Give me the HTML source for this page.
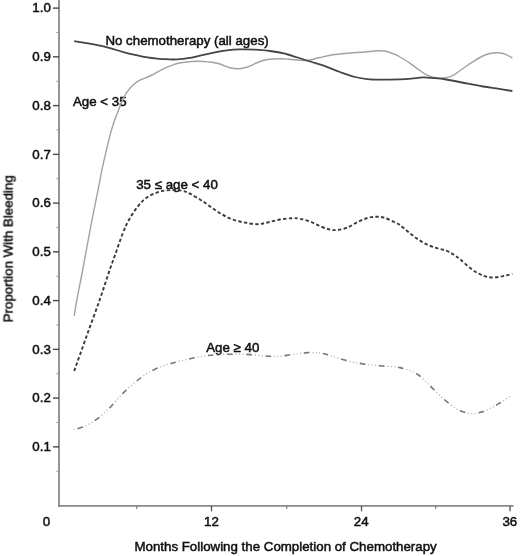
<!DOCTYPE html>
<html><head><meta charset="utf-8"><title>Chart</title>
<style>
html,body{margin:0;padding:0;background:#fff;}
svg{display:block}
.t{font-family:"Liberation Sans",sans-serif;font-size:13.3px;fill:#111;stroke:#111;stroke-width:0.5px;}
</style></head><body>
<svg width="520" height="556" viewBox="0 0 520 556">
<defs><filter id="soft" x="-10" y="-10" width="540" height="576" filterUnits="userSpaceOnUse"><feGaussianBlur stdDeviation="0.45"/></filter></defs>
<rect width="520" height="556" fill="#fff"/>
<g filter="url(#soft)">
<line x1="59.0" y1="-6" x2="59.0" y2="506.9" stroke="#8a8a8a" stroke-width="1.8"/>
<line x1="58.0" y1="505.9" x2="513.6" y2="505.9" stroke="#8a8a8a" stroke-width="1.8"/>
<line x1="53" y1="8.10" x2="59.0" y2="8.10" stroke="#4a4a4a" stroke-width="1.4"/>
<text x="50.8" y="12.30" text-anchor="end" class="t">1.0</text>
<line x1="56.3" y1="32.48" x2="59.0" y2="32.48" stroke="#999" stroke-width="1"/>
<line x1="53" y1="56.85" x2="59.0" y2="56.85" stroke="#4a4a4a" stroke-width="1.4"/>
<text x="50.8" y="61.05" text-anchor="end" class="t">0.9</text>
<line x1="56.3" y1="81.22" x2="59.0" y2="81.22" stroke="#999" stroke-width="1"/>
<line x1="53" y1="105.60" x2="59.0" y2="105.60" stroke="#4a4a4a" stroke-width="1.4"/>
<text x="50.8" y="109.80" text-anchor="end" class="t">0.8</text>
<line x1="56.3" y1="129.97" x2="59.0" y2="129.97" stroke="#999" stroke-width="1"/>
<line x1="53" y1="154.35" x2="59.0" y2="154.35" stroke="#4a4a4a" stroke-width="1.4"/>
<text x="50.8" y="158.55" text-anchor="end" class="t">0.7</text>
<line x1="56.3" y1="178.72" x2="59.0" y2="178.72" stroke="#999" stroke-width="1"/>
<line x1="53" y1="203.10" x2="59.0" y2="203.10" stroke="#4a4a4a" stroke-width="1.4"/>
<text x="50.8" y="207.30" text-anchor="end" class="t">0.6</text>
<line x1="56.3" y1="227.47" x2="59.0" y2="227.47" stroke="#999" stroke-width="1"/>
<line x1="53" y1="251.85" x2="59.0" y2="251.85" stroke="#4a4a4a" stroke-width="1.4"/>
<text x="50.8" y="256.05" text-anchor="end" class="t">0.5</text>
<line x1="56.3" y1="276.23" x2="59.0" y2="276.23" stroke="#999" stroke-width="1"/>
<line x1="53" y1="300.60" x2="59.0" y2="300.60" stroke="#4a4a4a" stroke-width="1.4"/>
<text x="50.8" y="304.80" text-anchor="end" class="t">0.4</text>
<line x1="56.3" y1="324.98" x2="59.0" y2="324.98" stroke="#999" stroke-width="1"/>
<line x1="53" y1="349.35" x2="59.0" y2="349.35" stroke="#4a4a4a" stroke-width="1.4"/>
<text x="50.8" y="353.55" text-anchor="end" class="t">0.3</text>
<line x1="56.3" y1="373.73" x2="59.0" y2="373.73" stroke="#999" stroke-width="1"/>
<line x1="53" y1="398.10" x2="59.0" y2="398.10" stroke="#4a4a4a" stroke-width="1.4"/>
<text x="50.8" y="402.30" text-anchor="end" class="t">0.2</text>
<line x1="56.3" y1="422.48" x2="59.0" y2="422.48" stroke="#999" stroke-width="1"/>
<line x1="53" y1="446.85" x2="59.0" y2="446.85" stroke="#4a4a4a" stroke-width="1.4"/>
<text x="50.8" y="451.05" text-anchor="end" class="t">0.1</text>
<line x1="56.3" y1="471.23" x2="59.0" y2="471.23" stroke="#999" stroke-width="1"/>
<line x1="211.5" y1="505.9" x2="211.5" y2="511.29999999999995" stroke="#555" stroke-width="1.3"/>
<line x1="361.5" y1="505.9" x2="361.5" y2="511.29999999999995" stroke="#555" stroke-width="1.3"/>
<line x1="510" y1="505.9" x2="510" y2="511.29999999999995" stroke="#555" stroke-width="1.3"/>
<line x1="136.8" y1="505.9" x2="136.8" y2="508.9" stroke="#777" stroke-width="1.1"/>
<line x1="286.8" y1="505.9" x2="286.8" y2="508.9" stroke="#777" stroke-width="1.1"/>
<line x1="435.7" y1="505.9" x2="435.7" y2="508.9" stroke="#777" stroke-width="1.1"/>
<text x="46.5" y="526.2" text-anchor="middle" class="t">0</text>
<text x="211.5" y="526.2" text-anchor="middle" class="t">12</text>
<text x="361.2" y="526.2" text-anchor="middle" class="t">24</text>
<text x="509.8" y="526.2" text-anchor="middle" class="t">36</text>
<text x="285.6" y="550.6" text-anchor="middle" class="t">Months Following the Completion of Chemotherapy</text>
<text transform="translate(12.6,248.8) rotate(-90)" text-anchor="middle" class="t">Proportion With Bleeding</text>
<text x="105.4" y="44.7" class="t">No chemotherapy (all ages)</text>
<text x="73" y="105.8" class="t">Age &lt; 35</text>
<text x="136.2" y="189" class="t">35 ≤ age &lt; 40</text>
<text x="206.2" y="351.5" class="t">Age ≥ 40</text>
<path d="M74.2,315.9 C74.7,313.1 75.6,306.6 77.0,299.0 C78.4,291.4 80.5,281.6 82.7,270.0 C84.9,258.4 87.7,242.5 90.2,229.4 C92.7,216.3 95.8,201.6 97.7,191.7 C99.7,181.8 100.5,176.8 101.9,170.0 C103.3,163.2 104.7,157.4 106.2,151.0 C107.7,144.6 109.6,136.8 111.0,131.6 C112.4,126.4 113.5,123.3 114.8,119.7 C116.1,116.1 117.3,113.2 118.6,110.0 C119.8,106.8 121.0,103.4 122.3,100.5 C123.6,97.6 124.8,95.3 126.5,92.8 C128.2,90.2 130.7,87.2 132.8,85.2 C134.9,83.2 136.1,82.1 139.0,80.6 C141.9,79.1 146.5,77.7 150.0,76.0 C153.5,74.3 157.4,71.9 160.0,70.6 C162.6,69.2 163.4,68.8 165.4,67.9 C167.4,67.0 169.4,66.2 172.0,65.3 C174.6,64.4 176.8,63.5 180.8,62.8 C184.8,62.1 191.1,61.3 196.2,61.2 C201.3,61.1 207.5,61.8 211.5,62.3 C215.5,62.8 216.9,63.1 220.0,64.0 C223.1,64.9 226.9,67.0 230.0,67.8 C233.1,68.6 235.8,68.9 238.7,68.8 C241.6,68.7 244.4,68.0 247.5,67.0 C250.6,66.0 254.2,63.8 257.5,62.5 C260.8,61.2 263.8,60.1 267.5,59.5 C271.2,58.9 275.8,58.7 280.0,58.7 C284.2,58.7 288.3,59.2 292.5,59.5 C296.7,59.8 302.1,60.4 305.0,60.5 C307.9,60.6 307.5,60.5 310.0,60.0 C312.5,59.5 315.8,58.4 320.0,57.5 C324.2,56.6 330.0,55.2 335.0,54.5 C340.0,53.8 345.0,53.4 350.0,53.0 C355.0,52.6 360.4,52.4 365.0,52.0 C369.6,51.6 374.0,50.9 377.5,50.8 C381.0,50.7 383.1,50.6 386.0,51.2 C388.9,51.8 392.7,53.5 395.0,54.5 C397.3,55.5 397.6,55.6 400.0,57.0 C402.4,58.4 406.1,60.6 409.2,62.7 C412.3,64.8 415.4,67.5 418.5,69.6 C421.6,71.7 424.6,74.0 427.7,75.4 C430.8,76.8 433.9,77.5 437.0,77.9 C440.1,78.3 443.5,78.1 446.2,77.7 C448.9,77.3 450.3,76.9 453.0,75.4 C455.7,74.0 459.2,71.1 462.3,69.0 C465.4,66.9 468.4,64.7 471.5,62.7 C474.6,60.7 477.7,58.5 480.8,57.0 C483.9,55.5 487.1,54.2 490.0,53.5 C492.9,52.8 495.3,52.6 498.0,52.8 C500.7,53.0 503.8,53.7 506.2,54.6 C508.6,55.5 511.4,57.4 512.4,58.0" fill="none" stroke="#a2a2a2" stroke-width="1.4"/>
<path d="M74.2,41.2 C76.0,41.5 81.1,42.2 85.0,42.9 C88.9,43.6 93.3,44.3 97.5,45.2 C101.7,46.1 105.8,47.1 110.0,48.2 C114.2,49.3 118.3,50.7 122.5,51.8 C126.7,52.9 130.8,53.9 135.0,54.8 C139.2,55.7 143.8,56.8 147.5,57.4 C151.2,58.0 154.0,58.3 157.0,58.6 C160.0,58.9 162.7,59.1 165.4,59.2 C168.1,59.4 170.4,59.5 173.0,59.5 C175.6,59.5 178.3,59.4 180.8,59.2 C183.3,59.0 185.4,58.6 188.0,58.2 C190.6,57.8 192.3,57.5 196.2,56.6 C200.1,55.8 206.7,54.1 211.5,53.1 C216.3,52.1 220.2,51.2 225.0,50.6 C229.8,50.0 235.0,49.5 240.0,49.4 C245.0,49.2 250.0,49.4 255.0,49.7 C260.0,50.0 265.0,50.3 270.0,51.0 C275.0,51.7 280.4,52.6 285.0,53.7 C289.6,54.8 293.3,56.2 297.5,57.5 C301.7,58.8 305.4,60.0 310.0,61.5 C314.6,63.0 320.0,64.5 325.0,66.2 C330.0,68.0 335.0,70.2 340.0,72.0 C345.0,73.8 350.4,75.8 355.0,77.0 C359.6,78.2 363.3,78.8 367.5,79.2 C371.7,79.7 374.6,79.7 380.0,79.7 C385.4,79.7 394.8,79.5 400.0,79.3 C405.2,79.1 407.7,78.9 411.5,78.6 C415.3,78.3 419.1,77.5 423.0,77.4 C426.9,77.3 430.7,77.9 434.6,78.2 C438.5,78.5 441.2,78.7 446.2,79.5 C451.2,80.3 458.5,81.8 464.6,83.0 C470.7,84.2 477.2,85.5 483.0,86.5 C488.8,87.5 494.3,88.0 499.2,88.8 C504.1,89.5 510.2,90.6 512.4,91.0" fill="none" stroke="#454545" stroke-width="1.8"/>
<path d="M74.2,371.0 C76.3,365.0 82.7,347.0 87.0,335.0 C91.3,323.0 96.2,310.0 100.0,299.0 C103.8,288.0 107.5,276.3 110.0,269.0 C112.5,261.7 113.0,260.8 115.1,255.0 C117.2,249.2 120.2,239.8 122.5,234.0 C124.8,228.2 126.1,225.0 128.6,220.5 C131.1,216.0 134.4,210.8 137.4,207.0 C140.4,203.2 143.0,200.1 146.8,197.5 C150.6,194.9 155.7,192.8 160.3,191.5 C164.9,190.2 170.8,190.1 174.6,190.0 C178.4,189.9 180.4,190.4 183.0,191.0 C185.6,191.6 186.6,191.9 190.0,193.7 C193.4,195.5 199.0,198.9 203.5,201.8 C208.0,204.7 212.4,208.4 216.9,211.2 C221.4,214.0 225.9,216.7 230.4,218.6 C234.9,220.5 239.3,221.5 243.8,222.4 C248.3,223.3 253.4,224.2 257.3,224.2 C261.2,224.2 263.7,223.3 267.5,222.5 C271.3,221.7 275.8,220.2 280.0,219.5 C284.2,218.8 289.2,218.3 292.5,218.2 C295.8,218.1 297.1,218.2 300.0,218.8 C302.9,219.4 306.7,220.3 310.0,221.5 C313.3,222.7 316.7,224.9 320.0,226.2 C323.3,227.5 327.1,228.9 330.0,229.5 C332.9,230.1 334.6,230.3 337.5,230.0 C340.4,229.7 344.2,228.8 347.5,227.5 C350.8,226.2 354.2,223.6 357.5,222.0 C360.8,220.4 364.4,218.9 367.5,218.0 C370.6,217.1 373.3,216.7 376.2,216.7 C379.1,216.7 381.9,217.0 385.0,218.0 C388.1,219.0 392.5,221.3 395.0,222.5 C397.5,223.7 397.6,223.3 400.0,225.0 C402.4,226.7 406.1,230.3 409.2,232.7 C412.3,235.1 415.4,237.6 418.5,239.6 C421.6,241.6 424.6,243.5 427.7,244.9 C430.8,246.3 433.9,247.2 437.0,248.2 C440.1,249.2 443.5,249.7 446.2,250.7 C448.9,251.7 450.7,252.8 453.0,254.2 C455.3,255.6 457.3,257.0 460.0,259.2 C462.7,261.4 466.1,264.9 469.2,267.3 C472.3,269.7 475.4,271.9 478.5,273.5 C481.6,275.1 484.6,276.4 487.7,277.0 C490.8,277.6 493.9,277.5 497.0,277.2 C500.1,276.9 503.6,276.0 506.2,275.4 C508.8,274.8 511.4,274.1 512.4,273.8" fill="none" stroke="#3a3a3a" stroke-width="1.9" stroke-dasharray="3.4,2.3"/>
<path d="M74.2,429.5 C76.0,428.9 81.1,428.0 85.0,426.2 C88.9,424.4 93.3,421.8 97.5,418.7 C101.7,415.6 105.8,411.7 110.0,407.5 C114.2,403.3 118.3,397.9 122.5,393.7 C126.7,389.5 131.2,385.5 135.0,382.4 C138.8,379.2 141.7,377.0 145.0,374.8 C148.3,372.6 151.2,370.9 155.0,369.2 C158.8,367.5 163.3,365.8 167.5,364.5 C171.7,363.2 175.4,362.3 180.0,361.2 C184.6,360.1 190.4,358.5 195.0,357.6 C199.6,356.7 203.3,356.1 207.5,355.6 C211.7,355.1 215.4,354.7 220.0,354.5 C224.6,354.3 230.0,354.2 235.0,354.2 C240.0,354.2 245.0,354.3 250.0,354.6 C255.0,354.9 260.4,355.6 265.0,355.9 C269.6,356.2 272.9,356.7 277.5,356.5 C282.1,356.3 287.5,355.1 292.5,354.5 C297.5,353.9 302.9,352.9 307.5,352.6 C312.1,352.4 316.2,352.5 320.0,353.0 C323.8,353.5 326.2,354.4 330.0,355.5 C333.8,356.6 338.3,358.3 342.5,359.5 C346.7,360.7 350.8,361.7 355.0,362.5 C359.2,363.3 363.3,364.0 367.5,364.5 C371.7,365.0 375.8,365.3 380.0,365.7 C384.2,366.1 389.2,366.4 392.5,366.7 C395.8,367.0 397.2,367.0 400.0,367.6 C402.8,368.2 406.1,369.1 409.2,370.3 C412.3,371.5 415.4,372.8 418.5,375.0 C421.6,377.2 424.6,380.6 427.7,383.5 C430.8,386.4 433.9,389.8 437.0,392.7 C440.1,395.6 443.1,398.6 446.2,401.2 C449.3,403.8 452.3,406.3 455.4,408.2 C458.5,410.1 461.9,411.4 464.6,412.3 C467.3,413.2 468.8,413.7 471.5,413.7 C474.2,413.7 477.3,413.4 480.8,412.3 C484.3,411.2 488.9,408.9 492.3,407.2 C495.8,405.5 498.1,404.0 501.5,402.0 C504.9,400.0 510.6,396.2 512.4,395.0" fill="none" stroke="#b0b0b0" stroke-width="1.3" stroke-dasharray="0,8.6,1.1,2.3,1.1,2.3,1.1,2.7" stroke-dashoffset="15.8"/>
<path d="M74.2,429.5 C76.0,428.9 81.1,428.0 85.0,426.2 C88.9,424.4 93.3,421.8 97.5,418.7 C101.7,415.6 105.8,411.7 110.0,407.5 C114.2,403.3 118.3,397.9 122.5,393.7 C126.7,389.5 131.2,385.5 135.0,382.4 C138.8,379.2 141.7,377.0 145.0,374.8 C148.3,372.6 151.2,370.9 155.0,369.2 C158.8,367.5 163.3,365.8 167.5,364.5 C171.7,363.2 175.4,362.3 180.0,361.2 C184.6,360.1 190.4,358.5 195.0,357.6 C199.6,356.7 203.3,356.1 207.5,355.6 C211.7,355.1 215.4,354.7 220.0,354.5 C224.6,354.3 230.0,354.2 235.0,354.2 C240.0,354.2 245.0,354.3 250.0,354.6 C255.0,354.9 260.4,355.6 265.0,355.9 C269.6,356.2 272.9,356.7 277.5,356.5 C282.1,356.3 287.5,355.1 292.5,354.5 C297.5,353.9 302.9,352.9 307.5,352.6 C312.1,352.4 316.2,352.5 320.0,353.0 C323.8,353.5 326.2,354.4 330.0,355.5 C333.8,356.6 338.3,358.3 342.5,359.5 C346.7,360.7 350.8,361.7 355.0,362.5 C359.2,363.3 363.3,364.0 367.5,364.5 C371.7,365.0 375.8,365.3 380.0,365.7 C384.2,366.1 389.2,366.4 392.5,366.7 C395.8,367.0 397.2,367.0 400.0,367.6 C402.8,368.2 406.1,369.1 409.2,370.3 C412.3,371.5 415.4,372.8 418.5,375.0 C421.6,377.2 424.6,380.6 427.7,383.5 C430.8,386.4 433.9,389.8 437.0,392.7 C440.1,395.6 443.1,398.6 446.2,401.2 C449.3,403.8 452.3,406.3 455.4,408.2 C458.5,410.1 461.9,411.4 464.6,412.3 C467.3,413.2 468.8,413.7 471.5,413.7 C474.2,413.7 477.3,413.4 480.8,412.3 C484.3,411.2 488.9,408.9 492.3,407.2 C495.8,405.5 498.1,404.0 501.5,402.0 C504.9,400.0 510.6,396.2 512.4,395.0" fill="none" stroke="#787878" stroke-width="1.6" stroke-dasharray="5.7,13.5" stroke-dashoffset="15.8"/>
</g>
</svg>
</body></html>
